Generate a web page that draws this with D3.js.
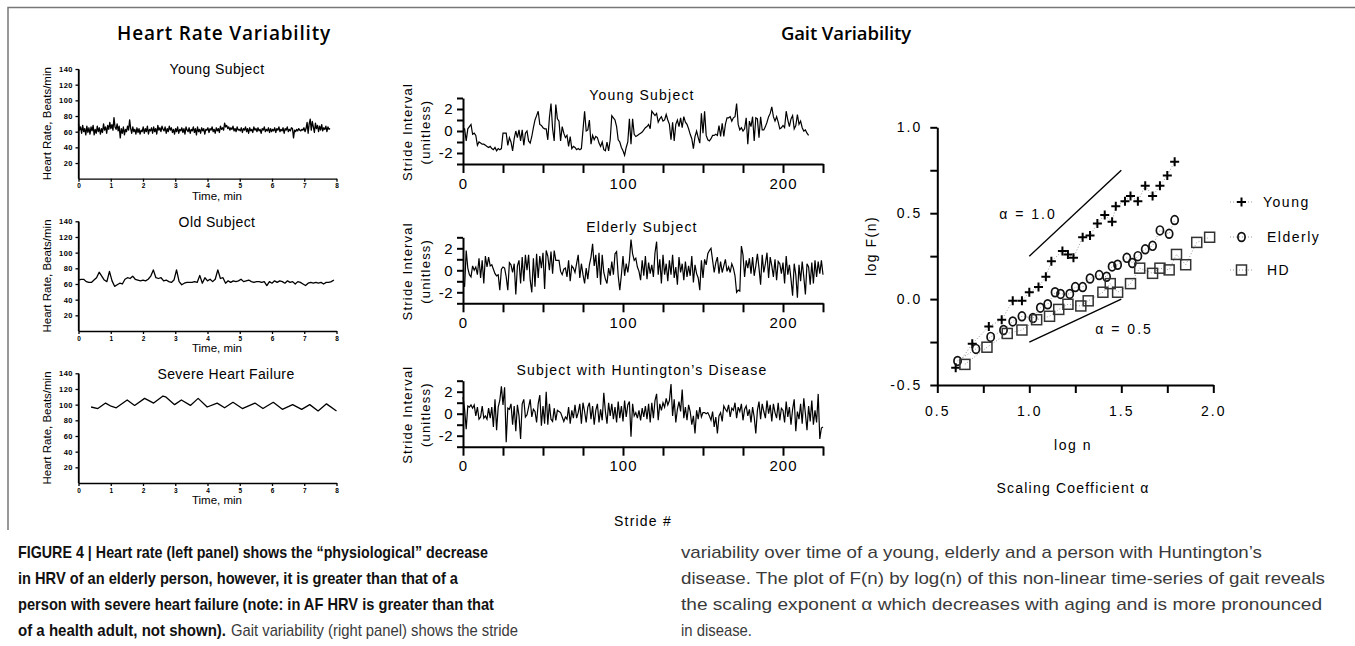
<!DOCTYPE html>
<html>
<head>
<meta charset="utf-8">
<script src="https://cdn.jsdelivr.net/npm/d3@7"></script>
<style>
  body { margin: 0; background: #fff; }
  svg { display: block; }
</style>
</head>
<body>
<svg id="fig" width="1355" height="646"></svg>
<script>
// ---- data ----

// heart rate, young subject (beats/min), evenly spaced over 0..7.8 min
const hrvYoung = [
  70,62,66,58,68,60,64,56,67,59,65,57,66,61,68,56,63,58,67,60,65,57,64,59,70,62,66,58,68,63,72,
  64,69,62,78,66,63,70,61,67,52,64,58,66,56,63,60,67,62,75,64,58,66,60,63,57,65,59,64,57,62,60,
  66,58,64,60,67,57,63,61,65,58,66,60,64,57,68,62,65,60,67,63,61,66,58,64,60,67,62,65,59,63,57,
  64,60,66,58,63,61,65,59,64,57,66,62,60,65,58,63,61,66,59,64,56,66,60,63,58,65,61,64,57,63,62,
  65,59,64,62,66,60,63,58,65,61,64,59,67,63,65,62,71,66,68,64,66,62,65,63,67,61,64,60,66,62,63,
  61,65,59,64,62,66,60,64,58,65,61,63,59,66,62,64,60,65,61,63,58,64,62,66,60,63,61,65,59,64,60,
  63,61,65,59,64,62,66,60,63,61,65,58,64,62,66,60,63,61,65,64,52,62,60,63,61,64,62,61,63,62,65,
  60,64,72,58,70,76,62,73,66,59,71,64,68,60,67,62,69,61,65,63,67,60,66,63,64
];
const hrvYoungEnd = 7.8;

// heart rate, old subject, evenly spaced over 0..7.92 min
const hrvOld = [
  65,66,66,63,62,62,65,68,75,70,65,63,76,64,57,59,61,60,66,68,
  67,70,66,65,64,65,64,66,70,78,68,67,68,64,65,63,62,65,78,63,
  59,61,62,62,62,63,62,71,61,68,64,66,63,66,78,67,68,61,64,62,
  64,63,64,66,63,64,65,63,62,63,63,62,63,58,63,61,64,62,64,63,
  61,64,62,63,60,63,62,60,58,61,62,61,62,61,62,60,62,62,63,65
];
const hrvOldEnd = 7.92;

// heart rate, severe heart failure (time in min, rate)
const hfTime = [0.39,0.6,0.84,1.01,1.17,1.51,1.74,2.05,2.33,2.62,2.7,2.98,3.19,3.47,3.71,
  3.99,4.3,4.53,4.79,5.08,5.47,5.72,6.04,6.32,6.64,6.92,7.17,7.43,7.69,8.0];
const hfRate = [97,95,102,98,96,106,99,108,102,111,110,100,106,99,108,
  97,102,96,103,95,102,95,103,94,100,94,100,92,101,92];

const hrvTicksX = [0,1,2,3,4,5,6,7,8];
const hrvTicksY = [20,40,60,80,100,120,140];

// stride interval series (unitless), one value per stride
const strideYoung = [
  0.2,0.2,-0.9,0.2,0.4,0.6,-0.3,-0.2,-0.4,-1.3,
  -1.0,-1.1,-1.2,-1.2,-1.3,-1.4,-1.5,-1.4,-1.6,-1.7,
  -1.5,-1.8,-1.6,-1.7,-1.6,-0.2,-0.2,-0.2,-1.3,-0.6,
  -1.0,-1.8,-0.7,0.0,-0.6,0.1,-0.9,0.1,-1.3,-0.2,
  0.0,-0.9,-1.1,-0.5,0.3,1.0,1.4,1.8,0.6,0.5,
  0.3,0.2,0.2,-0.8,1.2,2.5,0.2,-0.9,2.4,1.1,
  0.9,-0.9,0.4,-0.2,-0.6,-0.4,-1.4,-0.5,-1.6,-1.4,
  -1.5,-1.7,-1.6,-1.7,-1.6,0.1,1.8,0.0,0.1,1.0,
  -1.2,-0.4,-0.8,-0.5,-0.6,-1.1,-1.4,-1.0,-1.7,-1.8,
  -1.0,-1.8,-0.8,1.4,1.2,1.0,0.4,-0.8,-1.0,-1.5,
  -1.8,-2.2,-1.5,-1.0,1.1,-1.2,1.1,-0.3,-0.5,-0.4,
  -0.3,-0.2,-0.1,0.1,0.3,0.4,0.6,0.2,1.8,1.6,
  1.4,1.6,0.8,1.1,1.3,0.9,1.0,1.5,1.0,0.6,
  -0.8,0.8,-0.9,0.6,1.0,0.4,1.2,0.3,1.3,0.8,
  0.6,0.2,-0.3,-0.7,-1.6,-0.5,0.0,-0.6,-1.1,1.6,
  -0.2,1.8,-0.4,-0.8,-0.9,-0.7,-0.4,-0.4,-0.3,-0.4,
  0.5,-0.5,0.7,-0.5,0.6,1.2,1.2,1.3,0.9,1.2,
  1.3,2.5,0.6,0.1,0.3,0.0,0.2,1.2,-1.2,0.9,
  0.4,1.3,-0.9,1.2,1.1,-0.6,1.3,0.1,0.1,0.4,
  0.8,1.3,1.6,2.2,1.3,0.9,1.3,0.8,0.2,0.3,
  0.5,0.3,1.8,1.0,0.4,1.1,1.4,0.2,0.5,1.5,
  0.6,0.9,0.3,0.0,0.1,-0.2,-0.4
];
const strideElderly = [
  -1.0,-1.5,1.8,0.2,-0.4,-0.6,0.4,0.0,0.3,-0.4,
  1.1,-0.7,0.9,-1.2,1.3,0.3,1.2,0.4,0.5,0.1,
  -0.3,-0.5,-0.4,-1.8,0.1,0.3,0.2,-0.6,-1.8,0.7,
  0.5,-0.2,0.6,-2.2,0.4,0.9,-1.2,1.2,-1.0,1.4,
  0.0,1.4,-0.9,-2.0,1.1,-1.5,1.5,-0.7,1.3,0.2,
  1.6,-1.7,1.8,1.3,0.0,1.7,-0.3,1.8,0.9,0.9,
  0.9,-0.1,-0.4,0.1,0.2,-0.6,0.9,-1.0,0.4,0.2,
  -0.2,0.6,1.4,-0.7,0.6,-0.4,-1.2,0.2,-0.8,0.5,
  1.2,2.4,0.4,1.4,-0.7,1.6,-1.3,1.4,-0.2,-0.8,
  -1.2,0.2,-0.5,0.8,-0.4,1.5,1.7,-0.5,-1.8,-0.4,
  1.3,-0.5,0.6,-0.2,0.9,2.8,1.5,0.9,1.1,0.3,
  -0.1,-0.9,0.9,-0.5,1.3,-0.8,0.7,-0.3,0.5,-0.6,
  1.6,2.6,-0.4,1.0,-1.2,1.4,-0.4,0.6,-1.0,0.9,
  -0.4,1.4,-0.7,0.3,-1.3,1.2,-0.2,0.6,-0.9,0.8,
  -0.6,0.4,-0.5,1.3,-1.1,0.5,-0.3,-0.7,-1.8,0.9,
  -0.7,1.0,0.5,1.5,1.8,2.0,0.9,-0.2,0.7,1.2,
  -0.3,0.8,-0.2,0.4,1.0,-0.1,0.3,-0.2,0.6,0.2,
  -0.5,-2.0,-1.8,-1.9,2.2,1.4,-0.6,0.9,0.2,1.1,
  -0.3,1.2,-0.5,0.4,1.5,0.2,-1.3,1.4,-0.2,0.6,
  1.6,-0.7,1.2,0.4,-0.6,1.0,-0.9,0.8,0.6,-0.3,
  0.7,-1.2,1.3,-0.4,0.5,-0.8,-2.3,0.6,-0.4,-2.5,
  0.5,-1.0,0.8,-0.6,-2.2,0.6,0.3,-1.3,0.7,-1.2,
  0.9,-0.6,0.8,-0.3,0.9,-0.4
];
const strideHD = [
  1.5,0.4,-1.4,0.7,0.6,0.8,0.5,0.8,-0.2,0.6,
  -0.5,-0.3,0.7,-0.4,-0.2,-0.5,0.5,-0.4,0.6,-1.2,
  1.3,-1.5,0.6,1.2,2.5,0.8,2.4,-2.6,0.5,0.4,
  0.9,-1.0,0.7,-1.6,0.8,-0.2,-2.3,0.9,1.3,-0.3,
  -0.1,0.6,1.3,-0.3,0.4,0.2,-0.8,0.9,1.7,-1.1,
  0.7,-0.9,2.0,-1.0,0.9,-0.5,-0.7,0.5,-0.6,0.3,
  0.2,0.1,-0.3,-0.7,-0.3,-0.5,0.6,-0.9,0.3,-0.4,
  0.8,-0.4,0.1,0.9,-0.9,1.0,0.2,-0.8,0.6,1.0,
  -0.5,0.7,-1.0,0.3,0.9,-0.8,0.4,-0.6,1.9,0.2,
  -0.9,1.0,-0.2,0.9,-0.5,0.6,-0.8,1.1,-0.4,0.7,
  -0.7,1.2,-0.3,0.8,1.1,-2.1,0.9,-0.2,0.1,-0.4,
  0.3,-0.6,0.5,-0.3,0.7,-0.5,0.9,-0.8,1.0,-0.4,
  1.2,1.8,-0.6,0.9,0.3,1.0,0.6,1.4,0.8,1.2,
  2.7,-0.2,1.3,-0.8,0.4,1.1,0.2,2.2,-0.4,0.6,
  -0.6,0.8,0.2,-1.0,-0.2,-1.8,0.3,-0.5,0.6,-0.3,
  0.1,0.1,0.0,0.1,-0.2,-0.6,0.2,-1.2,-0.3,-1.8,
  -0.2,0.1,-0.7,0.7,0.4,0.2,0.8,-0.3,0.5,0.3,
  1.0,-0.4,0.6,0.2,0.9,-0.6,0.4,0.7,-0.2,0.4,
  -0.8,0.6,-0.3,-1.8,0.3,1.1,-0.5,0.9,0.2,-0.4,
  1.2,0.0,0.8,-0.7,0.9,0.1,-0.4,1.0,-0.6,0.5,
  0.3,-0.8,1.1,-0.3,0.6,-1.0,0.4,1.3,-1.6,0.2,
  -0.5,0.9,-0.9,1.4,0.0,-1.5,0.7,-0.7,1.2,-1.0,
  0.3,-0.8,1.8,-2.3,-1.3,-1.2
];
const strideTicks = [0,25,50,75,100,125,150,175,200,225];
const strideLabels = [0,100,200];

// DFA: log n vs log F(n)
const youngLogN = [0.60,0.69,0.78,0.85,0.91,0.96,1.00,1.05,1.09,1.12,1.18,1.21,1.24,1.29,1.33,
  1.37,1.41,1.45,1.47,1.52,1.55,1.59,1.63,1.67,1.71,1.75,1.79];
const youngLogF = [-0.40,-0.26,-0.16,-0.12,-0.01,-0.01,0.04,0.07,0.13,0.22,0.28,0.26,0.24,0.36,0.37,
  0.44,0.49,0.45,0.54,0.57,0.60,0.57,0.66,0.60,0.66,0.72,0.80];
const elderlyLogN = [0.61,0.71,0.79,0.86,0.91,0.96,1.02,1.06,1.10,1.14,1.17,1.22,1.25,1.29,1.33,
  1.38,1.42,1.45,1.48,1.53,1.56,1.59,1.63,1.67,1.71,1.76,1.79];
const elderlyLogF = [-0.36,-0.29,-0.22,-0.18,-0.13,-0.10,-0.11,-0.05,-0.03,0.04,0.03,0.03,0.07,0.07,0.12,
  0.14,0.13,0.19,0.20,0.24,0.21,0.25,0.29,0.31,0.40,0.38,0.46];
const hdLogN = [0.65,0.77,0.88,0.96,1.04,1.11,1.16,1.21,1.28,1.32,1.40,1.44,1.48,1.55,1.60,
  1.67,1.71,1.76,1.80,1.85,1.91,1.98];
const hdLogF = [-0.38,-0.28,-0.20,-0.18,-0.12,-0.10,-0.06,-0.03,-0.04,-0.01,0.04,0.09,0.04,0.09,0.18,
  0.15,0.18,0.17,0.26,0.20,0.33,0.36];
const refLines = [
  { label: 'α = 1.0', x: [1.0, 1.5], y: [0.25, 0.75], tx: 0.993, ty: 0.496 },
  { label: 'α = 0.5', x: [1.0, 1.5], y: [-0.25, 0.0], tx: 1.515, ty: -0.173 }
];
const dfaTicksX = [0.5,0.75,1.0,1.25,1.5,1.75,2.0];
const dfaTicksY = [-0.5,-0.25,0,0.25,0.5,0.75,1.0];

// caption lines: [text, bold?, start x, end x]
const captionLeft = [
  ['FIGURE 4 | Heart rate (left panel) shows the “physiological” decrease', true, 18, 488],
  ['in HRV of an elderly person, however, it is greater than that of a', true, 18, 458],
  ['person with severe heart failure (note: in AF HRV is greater than that', true, 18, 494],
  ['of a health adult, not shown).', true, 18, 226],
  ['Gait variability (right panel) shows the stride', false, 231, 518]
];
const captionLeftRow = [0, 1, 2, 3, 3];
const captionRight = [
  'variability over time of a young, elderly and a person with Huntington’s',
  'disease. The plot of F(n) by log(n) of this non-linear time-series of gait reveals',
  'the scaling exponent α which decreases with aging and is more pronounced',
  'in disease.'
];
const captionRightEnds = [1262, 1325, 1322, 752];

// ---- drawing ----
const svg = d3.select('#fig');
const SANS = 'Liberation Sans, Arial, Helvetica, sans-serif';
svg.append('rect').attr('width', 1355).attr('height', 646).attr('fill', '#fff');

// figure frame
svg.append('path')
  .attr('d', 'M8,530V7.5H1355')
  .attr('fill', 'none').attr('stroke', '#777').attr('stroke-width', 1.5);

// panel headings
svg.append('text').attr('x', 224).attr('y', 40).attr('text-anchor', 'middle')
  .attr('font-family', 'Open Sans, sans-serif').attr('font-size', 19).attr('font-weight', 600)
  .attr('letter-spacing', 0.8)
  .text('Heart Rate Variability');
svg.append('text').attr('x', 846).attr('y', 40).attr('text-anchor', 'middle')
  .attr('font-family', 'Open Sans, sans-serif').attr('font-size', 18.5).attr('font-weight', 600)
  .attr('letter-spacing', -0.1)
  .text('Gait Variability');

function styleAxis(sel, w, fs, bold, ls) {
  sel.select('.domain').attr('stroke', '#000').attr('stroke-width', w);
  sel.selectAll('.tick line').attr('stroke', '#000').attr('stroke-width', w);
  sel.selectAll('.tick text')
    .attr('fill', '#000')
    .attr('font-family', SANS)
    .attr('font-size', fs)
    .attr('font-weight', bold ? 'bold' : 'normal')
    .attr('letter-spacing', ls);
  sel.attr('font-family', null).attr('font-size', null);
}

function hrvPanel(times, rates, p) {
  const x = d3.scaleLinear().domain([0, 8]).range([78.5, 336.5]);
  const y = d3.scaleLinear().domain([0, 140]).range([p.yb, p.yb - 109.7]);
  const g = svg.append('g');

  g.append('g').attr('transform', `translate(0,${p.yb})`)
    .call(d3.axisBottom(x).tickValues(hrvTicksX).tickSize(3).tickSizeOuter(0).tickPadding(2))
    .call(s => styleAxis(s, 1.3, 6.5, true, 0));
  g.append('g').attr('transform', 'translate(78.5,0)')
    .call(d3.axisLeft(y).tickValues(hrvTicksY).tickSize(3).tickSizeOuter(0).tickPadding(2.5))
    .call(s => styleAxis(s, 1.3, 7.5, true, 0.5));
  // y axis from 0 to 140
  g.append('line').attr('x1', 78.5).attr('x2', 78.5).attr('y1', y(0)).attr('y2', y(140))
    .attr('stroke', '#000').attr('stroke-width', 1.3);

  const line = d3.line().x((d, i) => x(times[i])).y(d => y(d));
  g.append('path').datum(rates).attr('d', line)
    .attr('fill', 'none').attr('stroke', '#000').attr('stroke-width', 1.3)
    .attr('stroke-linejoin', 'round');

  g.append('text').attr('x', p.tx).attr('y', p.yb - 104.5).attr('text-anchor', 'middle')
    .attr('font-family', SANS).attr('font-size', 14).attr('letter-spacing', 0.4)
    .text(p.title);
  g.append('text').attr('x', 217).attr('y', p.yb + 21).attr('text-anchor', 'middle')
    .attr('font-family', SANS).attr('font-size', 11.5)
    .text('Time, min');
  g.append('text')
    .attr('transform', `translate(47,${p.yb - 55}) rotate(-90)`)
    .attr('text-anchor', 'middle').attr('dominant-baseline', 'central')
    .attr('font-family', SANS).attr('font-size', 11.5)
    .text('Heart Rate, Beats/min');
}

const youngTimes = hrvYoung.map((d, i) => i * hrvYoungEnd / (hrvYoung.length - 1));
const oldTimes = hrvOld.map((d, i) => i * hrvOldEnd / (hrvOld.length - 1));
hrvPanel(youngTimes, hrvYoung, { yb: 178.7, title: 'Young Subject', tx: 217 });
hrvPanel(oldTimes, hrvOld, { yb: 331, title: 'Old Subject', tx: 217 });
hrvPanel(hfTime, hfRate, { yb: 483, title: 'Severe Heart Failure', tx: 226 });

function gaitPanel(vals, p) {
  const x = d3.scaleLinear().domain([0, 225]).range([463, 823]);
  const y = d3.scaleLinear().domain([-3, 3]).range([p.yb, p.yb - 66]);
  const g = svg.append('g');

  g.append('g').attr('transform', `translate(0,${p.yb})`)
    .call(d3.axisBottom(x).tickValues(strideTicks).tickSize(9).tickSizeOuter(0).tickPadding(5)
      .tickFormat(d => strideLabels.includes(d) ? d : ''))
    .call(s => styleAxis(s, 2, 15, false, 1));
  g.append('g').attr('transform', 'translate(463,0)')
    .call(d3.axisLeft(y).tickValues(d3.range(-3, 4)).tickSize(6).tickSizeOuter(0).tickPadding(4)
      .tickFormat(d => (d === -2 || d === 0 || d === 2) ? String(d) : ''))
    .call(s => styleAxis(s, 2, 15, false, 0.5));

  const line = d3.line().x((d, i) => x(i)).y(d => y(d));
  g.append('path').datum(vals).attr('d', line)
    .attr('fill', 'none').attr('stroke', '#000').attr('stroke-width', 1.2)
    .attr('stroke-linejoin', 'miter');

  g.append('text').attr('x', 642).attr('y', p.ty).attr('text-anchor', 'middle')
    .attr('font-family', SANS).attr('font-size', 14).attr('letter-spacing', 1.2)
    .text(p.title);
  g.append('text')
    .attr('transform', `translate(407,${p.yb - 32}) rotate(-90)`)
    .attr('text-anchor', 'middle').attr('dominant-baseline', 'central')
    .attr('font-family', SANS).attr('font-size', 13).attr('letter-spacing', 1.2)
    .text('Stride Interval');
  g.append('text')
    .attr('transform', `translate(425,${p.yb - 32}) rotate(-90)`)
    .attr('text-anchor', 'middle').attr('dominant-baseline', 'central')
    .attr('font-family', SANS).attr('font-size', 13).attr('letter-spacing', 1.2)
    .text('(unitless)');
}

gaitPanel(strideYoung, { yb: 164, ty: 100, title: 'Young Subject' });
gaitPanel(strideElderly, { yb: 303.3, ty: 232, title: 'Elderly Subject' });
gaitPanel(strideHD, { yb: 446.7, ty: 375, title: 'Subject with Huntington’s Disease' });
svg.append('text').attr('x', 643).attr('y', 526).attr('text-anchor', 'middle')
  .attr('font-family', SANS).attr('font-size', 14).attr('letter-spacing', 1.2)
  .text('Stride #');

// DFA scaling plot
const dx = d3.scaleLinear().domain([0.5, 2.0]).range([937.3, 1213.3]);
const dy = d3.scaleLinear().domain([-0.5, 1.0]).range([385, 127.3]);
const dfa = svg.append('g');

dfa.append('g').attr('transform', 'translate(0,385)')
  .call(d3.axisBottom(dx).tickValues(dfaTicksX).tickSize(8).tickSizeOuter(0).tickPadding(13)
    .tickFormat(d => (d * 2) % 1 === 0 ? d.toFixed(1) : ''))
  .call(s => styleAxis(s, 2, 14, false, 2));
dfa.append('g').attr('transform', 'translate(937.3,0)')
  .call(d3.axisLeft(dy).tickValues(dfaTicksY).tickSize(7).tickSizeOuter(0).tickPadding(8)
    .tickFormat(d => (d * 2) % 1 === 0 ? d.toFixed(1) : ''))
  .call(s => styleAxis(s, 2, 14, false, 2));

refLines.forEach(r => {
  dfa.append('line')
    .attr('x1', dx(r.x[0])).attr('y1', dy(r.y[0]))
    .attr('x2', dx(r.x[1])).attr('y2', dy(r.y[1]))
    .attr('stroke', '#000').attr('stroke-width', 1.4);
  dfa.append('text').attr('x', dx(r.tx)).attr('y', dy(r.ty) + 5)
    .attr('text-anchor', 'middle')
    .attr('font-family', SANS).attr('font-size', 14).attr('letter-spacing', 2)
    .text(r.label);
});

const groups = [
  { name: 'Young', n: youngLogN, f: youngLogF, mark: 'plus', lx: 1263, ly: 202 },
  { name: 'Elderly', n: elderlyLogN, f: elderlyLogF, mark: 'circle', lx: 1267, ly: 237 },
  { name: 'HD', n: hdLogN, f: hdLogF, mark: 'square', lx: 1267, ly: 270 }
];

function drawMark(sel, type) {
  if (type === 'plus') {
    sel.append('path').attr('d', 'M-4.5,0H4.5M0,-4.5V4.5')
      .attr('stroke', '#000').attr('stroke-width', 2);
  } else if (type === 'circle') {
    sel.append('ellipse').attr('rx', 3.6).attr('ry', 4.4)
      .attr('fill', 'none').attr('stroke', '#111').attr('stroke-width', 1.7);
  } else {
    sel.append('rect').attr('x', -5).attr('y', -5).attr('width', 10).attr('height', 10)
      .attr('fill', 'none').attr('stroke', '#333').attr('stroke-width', 1.5);
  }
}

groups.forEach(gr => {
  const pts = gr.n.map((v, i) => [v, gr.f[i]]);
  dfa.append('path').datum(pts)
    .attr('d', d3.line().x(d => dx(d[0])).y(d => dy(d[1])))
    .attr('fill', 'none').attr('stroke', '#999').attr('stroke-width', 1)
    .attr('stroke-dasharray', '1,2');
  dfa.selectAll(null).data(pts).join('g')
    .attr('transform', d => `translate(${dx(d[0])},${dy(d[1])})`)
    .each(function () { drawMark(d3.select(this), gr.mark); });

  // legend entry
  dfa.append('line').attr('x1', 1230).attr('x2', 1253).attr('y1', gr.ly).attr('y2', gr.ly)
    .attr('stroke', '#999').attr('stroke-width', 1).attr('stroke-dasharray', '1,2');
  const lg = dfa.append('g').attr('transform', `translate(1241.5,${gr.ly})`);
  drawMark(lg, gr.mark);
  dfa.append('text').attr('x', gr.lx).attr('y', gr.ly + 5)
    .attr('font-family', SANS).attr('font-size', 14).attr('letter-spacing', 1.5)
    .text(gr.name);
});

dfa.append('text')
  .attr('transform', 'translate(871,246) rotate(-90)')
  .attr('text-anchor', 'middle').attr('dominant-baseline', 'central')
  .attr('font-family', SANS).attr('font-size', 14).attr('letter-spacing', 1.5)
  .text('log F(n)');
dfa.append('text').attr('x', 1073).attr('y', 450).attr('text-anchor', 'middle')
  .attr('font-family', SANS).attr('font-size', 14).attr('letter-spacing', 1.5)
  .text('log n');
dfa.append('text').attr('x', 1073).attr('y', 493).attr('text-anchor', 'middle')
  .attr('font-family', SANS).attr('font-size', 14).attr('letter-spacing', 1.2)
  .text('Scaling Coefficient α');

// caption
const CAP = 'Liberation Sans Narrow, Arial Narrow, Liberation Sans, sans-serif';
captionLeft.forEach(([s, bold, x0, x1], i) => {
  svg.append('text').attr('x', x0).attr('y', 558 + captionLeftRow[i] * 26)
    .attr('font-family', CAP).attr('font-size', 17)
    .attr('font-weight', bold ? 'bold' : 'normal')
    .attr('fill', bold ? '#111' : '#3a3a3a')
    .attr('textLength', x1 - x0).attr('lengthAdjust', 'spacingAndGlyphs')
    .text(s);
});
captionRight.forEach((s, i) => {
  svg.append('text').attr('x', 681).attr('y', 558 + i * 26)
    .attr('font-family', CAP).attr('font-size', 17).attr('fill', '#3a3a3a')
    .attr('textLength', captionRightEnds[i] - 681).attr('lengthAdjust', 'spacingAndGlyphs')
    .text(s);
});
</script>
</body>
</html>
